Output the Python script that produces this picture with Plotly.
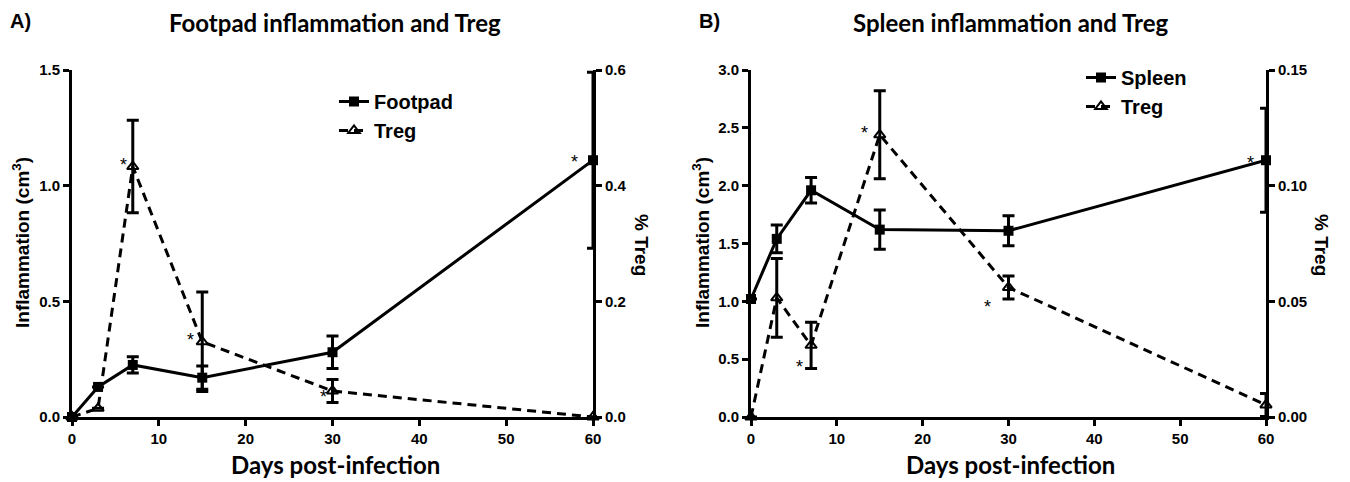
"""Footpad / spleen inflammation vs Treg over days post-infection."""

import plotly.graph_objects as go

# Panel A: footpad inflammation (cm3) and % Treg
days_a = [0, 3, 7, 15, 30, 60]
footpad = [0.0, 0.13, 0.225, 0.17, 0.28, 1.11]
footpad_err = [0.0, 0.0, 0.035, 0.05, 0.07, 0.38]
treg_a = [0.0, 0.015, 0.433, 0.13, 0.045, 0.0]
treg_a_err = [0.0, 0.0, 0.08, 0.086, 0.02, 0.0]

# Panel B: spleen inflammation (cm3) and % Treg
days_b = [0, 3, 7, 15, 30, 60]
spleen = [1.02, 1.54, 1.96, 1.62, 1.61, 2.22]
spleen_err = [0.0, 0.12, 0.11, 0.17, 0.13, 0.45]
treg_b = [0.0, 0.0515, 0.031, 0.122, 0.056, 0.0052]
treg_b_err = [0.0, 0.017, 0.01, 0.019, 0.005, 0.005]

# significance marks (index into the day lists)
stars_a_treg = [2, 3, 4]
stars_a_foot = [5]
stars_b_treg = [3, 2, 4]
stars_b_spleen = [5]

BLACK = "black"
ARIAL = "Liberation Sans, Arial, sans-serif"
TICKFONT = dict(family=ARIAL, size=15, color=BLACK, weight="bold")
ERR = dict(type="data", thickness=3, width=6, color=BLACK)

# page body has an 8px margin, so the figure is a bit smaller than the window
PAGE_OFF = 8
W, H = 1350 - PAGE_OFF, 482 - PAGE_OFF


def px(x):
    return (x - PAGE_OFF) / W


def py(y):
    return 1 - (y - PAGE_OFF) / H


def solid_trace(x, y, err, name, xa, ya, legend):
    return go.Scatter(
        x=x, y=y, name=name, mode="lines+markers",
        line=dict(color=BLACK, width=3),
        marker=dict(symbol="square", size=10, color=BLACK),
        error_y=dict(array=err, **ERR),
        xaxis=xa, yaxis=ya, legend=legend, cliponaxis=False,
    )


def dashed_trace(x, y, err, name, xa, ya, legend):
    return go.Scatter(
        x=x, y=y, name=name, mode="lines+markers",
        line=dict(color=BLACK, width=3, dash="9px,6px"),
        marker=dict(symbol="triangle-up-open", size=10, color=BLACK,
                    line=dict(width=2, color=BLACK)),
        error_y=dict(array=err, **ERR),
        xaxis=xa, yaxis=ya, legend=legend, cliponaxis=False,
    )


fig = go.Figure()
fig.add_trace(solid_trace(days_a, footpad, footpad_err, "Footpad", "x", "y", "legend"))
fig.add_trace(dashed_trace(days_a, treg_a, treg_a_err, "Treg", "x", "y2", "legend"))
fig.add_trace(solid_trace(days_b, spleen, spleen_err, "Spleen", "x2", "y3", "legend2"))
fig.add_trace(dashed_trace(days_b, treg_b, treg_b_err, "Treg", "x2", "y4", "legend2"))

xa_dom = [px(72), px(593)]
xb_dom = [px(751), px(1266)]
y_dom = [py(417), py(70)]


def axis(**kw):
    base = dict(showline=True, linecolor=BLACK, linewidth=3, ticks="outside",
                ticklen=6, tickwidth=2.5, tickcolor=BLACK, showgrid=False,
                zeroline=False, tickfont=TICKFONT, fixedrange=True,
                automargin=False)
    base.update(kw)
    return base


LEGFONT = dict(family=ARIAL, size=20, color=BLACK, weight="bold")

fig.update_layout(
    template="simple_white",
    width=W, height=H,
    margin=dict(l=0, r=0, t=0, b=0, autoexpand=False),
    paper_bgcolor="white", plot_bgcolor="white",
    xaxis=axis(domain=xa_dom, range=[0, 60], dtick=10, anchor="y"),
    yaxis=axis(domain=y_dom, range=[0, 1.5], dtick=0.5, tickformat=".1f", anchor="x"),
    yaxis2=axis(range=[0, 0.6], dtick=0.2, tickformat=".1f", overlaying="y",
                side="right", anchor="x"),
    xaxis2=axis(domain=xb_dom, range=[0, 60], dtick=10, anchor="y3"),
    yaxis3=axis(domain=y_dom, range=[0, 3.0], dtick=0.5, tickformat=".1f", anchor="x2"),
    yaxis4=axis(range=[0, 0.15], dtick=0.05, tickformat=".2f", overlaying="y3",
                side="right", anchor="x2"),
    legend=dict(x=px(334), y=py(82), xanchor="left", yanchor="top",
                bgcolor="rgba(0,0,0,0)", font=LEGFONT, tracegroupgap=0),
    legend2=dict(x=px(1081), y=py(58), xanchor="left", yanchor="top",
                 bgcolor="rgba(0,0,0,0)", font=LEGFONT, tracegroupgap=0),
    showlegend=True,
)

BOLD_SANS = dict(family=ARIAL, size=20, color=BLACK, weight="bold")
HUMANIST = dict(family="Lato, Open Sans", size=24, color=BLACK, weight="bold")
AXT = dict(family=ARIAL, size=19, color=BLACK, weight="bold")

notes = [
    dict(text="A)", x=px(8), y=py(21), font=BOLD_SANS, xanchor="left"),
    dict(text="B)", x=px(697), y=py(21), font=BOLD_SANS, xanchor="left"),
    dict(text="Footpad inflammation and Treg", x=px(335), y=py(23), font=HUMANIST),
    dict(text="Spleen inflammation and Treg", x=px(1010), y=py(23), font=HUMANIST),
    dict(text="Days post-infection", x=px(335), y=py(464), font=HUMANIST),
    dict(text="Days post-infection", x=px(1010), y=py(464), font=HUMANIST),
    dict(text="Inflammation (cm<sup>3</sup>)", x=px(21), y=py(243), font=AXT, textangle=-90),
    dict(text="Inflammation (cm<sup>3</sup>)", x=px(701), y=py(243), font=AXT, textangle=-90),
    dict(text="% Treg", x=px(642), y=py(245), font=AXT, textangle=90),
    dict(text="% Treg", x=px(1322), y=py(245), font=AXT, textangle=90),
]
for n in notes:
    fig.add_annotation(xref="paper", yref="paper", showarrow=False,
                       yanchor="middle", **{"xanchor": "center", **n})

STAR = dict(family=ARIAL, size=18, color=BLACK)


def add_stars(idx, xs, ys, xa, ya, shifts):
    for i, (dx, dy) in zip(idx, shifts):
        fig.add_annotation(x=xs[i], y=ys[i], xref=xa, yref=ya, text="*",
                           showarrow=False, font=STAR, xshift=dx, yshift=dy)


add_stars(stars_a_treg, days_a, treg_a, "x", "y2", [(-9, 2), (-12, 2), (-9, -6)])
add_stars(stars_a_foot, days_a, footpad, "x", "y", [(-19, -2)])
add_stars(stars_b_treg, days_b, treg_b, "x2", "y4", [(-15, 2), (-12, -22), (-21, -20)])
add_stars(stars_b_spleen, days_b, spleen, "x2", "y3", [(-16, -3)])

fig.write_html("out.html")
